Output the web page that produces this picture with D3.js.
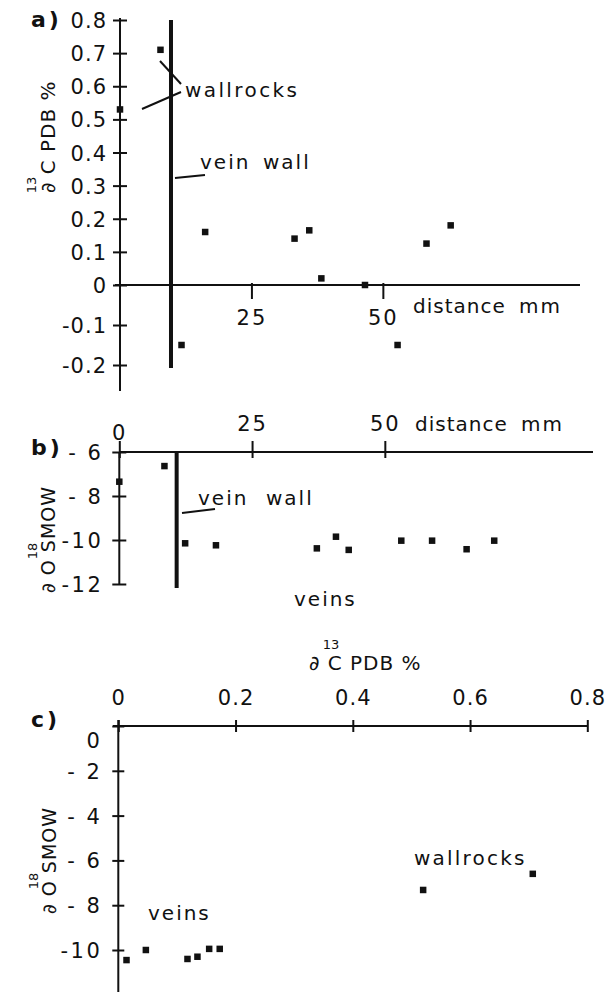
<!DOCTYPE html>
<html><head><meta charset="utf-8">
<script src="https://cdn.jsdelivr.net/npm/d3@7"></script>
<style>
body{margin:0;background:#fff}
svg{display:block}
text{font-family:"DejaVu Sans",sans-serif;fill:#111}
</style>
</head><body>
<svg id="chart" width="606" height="992"></svg>
<script>
// ---------- DATA ----------
// panel a: distance (mm) vs d13C PDB
const distA   = [0, 7.7, 11.7, 16.2, 33.2, 36.0, 38.3, 46.6, 52.8, 58.3, 62.9];
const carbonA = [0.53, 0.71, -0.15, 0.16, 0.14, 0.165, 0.02, 0.0, -0.15, 0.125, 0.18];
// panel b: distance (mm) vs d18O SMOW
const distB   = [0, 8.5, 12.4, 18.2, 37.2, 40.8, 43.2, 53.1, 58.9, 65.4, 70.6];
const oxygenB = [-7.35, -6.64, -10.15, -10.24, -10.38, -9.85, -10.45, -10.03, -10.03, -10.42, -10.03];
// panel c: d13C vs d18O
const carbonC = [0.014, 0.047, 0.118, 0.135, 0.155, 0.173, 0.52, 0.707];
const oxygenC = [-10.45, -10.0, -10.4, -10.3, -9.95, -9.95, -7.32, -6.6];
// vein wall positions (mm)
const veinWallA = [9.7];
const veinWallB = [10.8];
// ticks
const ticksAY = [-0.2, -0.1, 0, 0.1, 0.2, 0.3, 0.4, 0.5, 0.6, 0.7, 0.8];
const ticksAX = [25, 50];
const ticksBY = [-6, -8, -10, -12];
const ticksBX = [0, 25, 50];
const ticksCX = [0, 0.2, 0.4, 0.6, 0.8];
const ticksCY = [0, -2, -4, -6, -8, -10];

// ---------- DRAW ----------
const svg = d3.select("#chart");
const INK = "#111";
const FS = 20;
const TFS = 21;
const MS = 6.5; // marker size

function fmtDec(d){ return d === 0 ? "0" : (d < 0 ? "-" : "") + Math.abs(d).toFixed(1); }
function fmtInt(d){ if (d === 0) return "0"; const a = Math.abs(d); return a < 10 ? "- " + a : "-" + a; }

function styleAxis(g, ls){
  g.select(".domain").remove();
  g.attr("font-family", null).attr("font-size", null);
  g.selectAll(".tick line").attr("stroke", INK).attr("stroke-width", 2);
  g.selectAll(".tick text").attr("fill", INK).style("font-size", TFS + "px").style("letter-spacing", (ls || 1) + "px");
}
function line(x1, y1, x2, y2, w){
  svg.append("line").attr("x1", x1).attr("y1", y1).attr("x2", x2).attr("y2", y2)
    .attr("stroke", INK).attr("stroke-width", w || 2).attr("stroke-linecap", "butt");
}
function label(txt, x, y, opts){
  opts = opts || {};
  return svg.append("text").attr("x", x).attr("y", y).text(txt)
    .style("font-size", (opts.fs || FS) + "px")
    .style("letter-spacing", (opts.ls != null ? opts.ls : 2) + "px")
    .style("font-weight", opts.bold ? "bold" : "normal")
    .attr("text-anchor", opts.anchor || "start");
}
function markers(xs, ys, xScale, yScale){
  svg.append("g").selectAll("rect").data(xs.map((x, i) => [x, ys[i]])).join("rect")
    .attr("x", d => xScale(d[0]) - MS / 2).attr("y", d => yScale(d[1]) - MS / 2)
    .attr("width", MS).attr("height", MS).attr("fill", INK);
}
// rotated title with superscript
function vTitle(main, sup, x, yStart, supOffset, fs){
  const g = svg.append("g").attr("transform", `translate(${x},${yStart}) rotate(-90)`);
  g.append("text").attr("x", 0).attr("y", 0).text(main)
    .style("font-size", fs + "px").style("letter-spacing", "1px");
  g.append("text").attr("x", supOffset).attr("y", -fs * 0.95).text(sup)
    .attr("text-anchor", "middle").style("font-size", "13px");
}

// ===== Panel a =====
const xA = d3.scaleLinear().domain([0, 87.5]).range([120, 580]);
const yA = d3.scaleLinear().domain([-0.265, 0, 0.8]).range([391, 285, 20]);

line(xA(0), 18, xA(0), 391, 2);
line(115, yA(0), xA(87.5), yA(0), 2);

const gAY = svg.append("g").attr("transform", `translate(${xA(0)},0)`)
  .call(d3.axisLeft(yA).tickValues(ticksAY).tickSize(7).tickFormat(fmtDec));
styleAxis(gAY, 1);
gAY.selectAll(".tick line").attr("x1", 7);
gAY.selectAll(".tick text").attr("x", -13).attr("dy", "0.36em");

const gAX = svg.append("g").attr("transform", `translate(0,${yA(0)})`)
  .call(d3.axisBottom(xA).tickValues(ticksAX).tickSize(14).tickFormat(d3.format("d")));
styleAxis(gAX, 2);
gAX.selectAll(".tick line").attr("y1", -2);
gAX.selectAll(".tick text").attr("y", 32).attr("dy", "0.36em");

// vein wall
svg.append("g").selectAll("line").data(veinWallA).join("line")
  .attr("x1", d => xA(d)).attr("x2", d => xA(d)).attr("y1", 20).attr("y2", 368)
  .attr("stroke", INK).attr("stroke-width", 4);

markers(distA, carbonA, xA, yA);

label("a)", 31, 27, {bold: true, fs: 22, ls: 3});
vTitle("\u2202 C PDB %", "13", 55, 193, 8, 20);
label("wallrocks", 185, 97, {ls: 2.4});
line(160, 61, 181, 84, 2);
line(142, 109, 181, 92, 2);
label("vein", 200, 169);
label("wall", 263, 169);
line(175, 178, 205, 175, 2);
label("distance", 413, 313, {ls: 1});
label("mm", 519, 313);

// ===== Panel b =====
const xB = d3.scaleLinear().domain([0, 89.2]).range([119.3, 593]);
const yB = d3.scaleLinear().domain([-6, -12]).range([452, 584]);

line(xB(0), yB(-6), xB(0), yB(-12), 2);
line(xB(0), yB(-6), xB(89.2), yB(-6), 2);

const gBY = svg.append("g").attr("transform", `translate(${xB(0)},0)`)
  .call(d3.axisLeft(yB).tickValues(ticksBY).tickSize(7).tickFormat(fmtInt));
styleAxis(gBY, 2.5);
gBY.selectAll(".tick line").attr("x1", 7);
gBY.selectAll(".tick text").attr("x", -16).attr("dy", "0.36em");

const gBX = svg.append("g").attr("transform", `translate(0,${yB(-6)})`)
  .call(d3.axisTop(xB).tickValues(ticksBX).tickSize(11).tickFormat(d3.format("d")));
styleAxis(gBX, 2);
gBX.selectAll(".tick line").attr("y1", 6);
gBX.selectAll(".tick text").attr("y", d => d === 0 ? -20 : -29).attr("dy", "0.36em");

svg.append("g").selectAll("line").data(veinWallB).join("line")
  .attr("x1", d => xB(d)).attr("x2", d => xB(d)).attr("y1", yB(-6)).attr("y2", 588)
  .attr("stroke", INK).attr("stroke-width", 4);

markers(distB, oxygenB, xB, yB);

label("b)", 31, 455, {bold: true, fs: 22, ls: 3});
vTitle("\u2202 O SMOW", "18", 55, 593, 42, 19);
label("vein", 198, 505);
label("wall", 266, 505);
line(182, 513, 215, 509, 2);
label("distance", 415, 431, {ls: 1});
label("mm", 521, 431);
label("veins", 294, 606);

// ===== Panel c =====
const xC = d3.scaleLinear().domain([0, 0.8]).range([118.3, 587.3]);
const yC = d3.scaleLinear().domain([0, -11.875]).range([726, 992]);

line(xC(0), 720, xC(0), 992, 2);
line(113, yC(0), xC(0.8), yC(0), 2);

const gCX = svg.append("g").attr("transform", `translate(0,${yC(0)})`)
  .call(d3.axisTop(xC).tickValues(ticksCX).tickSize(6).tickFormat(d => d === 0 ? "0" : d.toFixed(1)));
styleAxis(gCX, 1);
gCX.selectAll(".tick line").attr("y1", 6);
gCX.selectAll(".tick text").attr("y", -29).attr("dy", "0.36em");

const gCY = svg.append("g").attr("transform", `translate(${xC(0)},0)`)
  .call(d3.axisLeft(yC).tickValues(ticksCY).tickSize(6).tickFormat(fmtInt));
styleAxis(gCY, 2.5);
gCY.selectAll(".tick line").attr("x1", 6);
gCY.selectAll(".tick text").attr("x", -16).attr("y", d => d === 0 ? 14 : 0).attr("dy", "0.36em");

markers(carbonC, oxygenC, xC, yC);

label("c)", 31, 727, {bold: true, fs: 22, ls: 3});
// horizontal title
label("\u2202 C PDB %", 309, 670, {ls: 1});
label("13", 331, 649, {fs: 13, ls: 0, anchor: "middle"});
vTitle("\u2202 O SMOW", "18", 56, 914, 33, 19);
label("wallrocks", 414, 865, {ls: 2.2});
label("veins", 148, 920);
</script>
</body></html>
